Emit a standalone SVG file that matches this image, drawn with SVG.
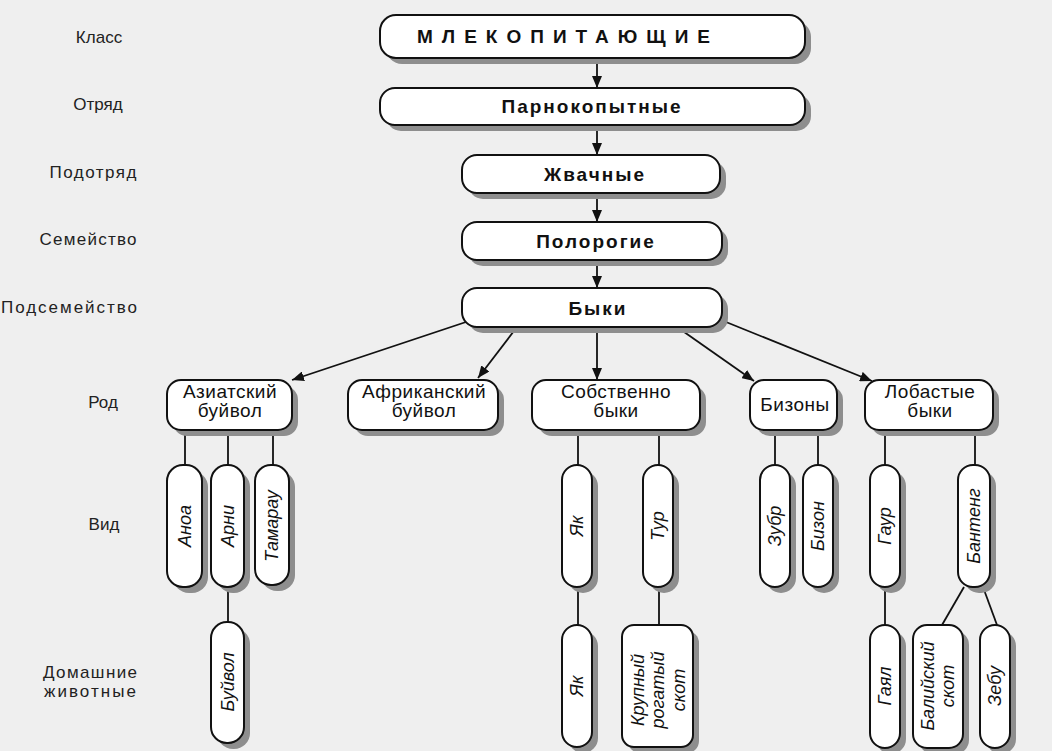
<svg xmlns="http://www.w3.org/2000/svg" width="1052" height="751" viewBox="0 0 1052 751">
<defs>
<style>
.box{fill:#fff;stroke:#111;stroke-width:2}
.sh{fill:#8e8e8e}
.ln{stroke:#111;stroke-width:1.8;fill:none}
.ar{stroke:#111;stroke-width:1.8;fill:none;marker-end:url(#ah)}
.lbl{font-family:"Liberation Sans",Arial,sans-serif;font-size:17px;fill:#222;text-anchor:middle}
.main{font-family:"Liberation Sans",Arial,sans-serif;font-size:19px;font-weight:bold;fill:#111;text-anchor:middle;letter-spacing:2px}
.gen{font-family:"Liberation Sans",Arial,sans-serif;font-size:19px;fill:#111;text-anchor:middle;letter-spacing:0.5px}
.sp{font-family:"Liberation Sans",Arial,sans-serif;font-size:18px;font-style:italic;fill:#111;text-anchor:middle;dominant-baseline:central}
</style>
<marker id="ah" viewBox="0 0 12 10" refX="12" refY="5" markerWidth="12" markerHeight="10" markerUnits="userSpaceOnUse" orient="auto">
<path d="M0,0 L12,5 L0,10 z" fill="#111"/>
</marker>
</defs>
<rect width="1052" height="751" fill="#efefef"/>

<g id="rank-labels">
<text class="lbl" x="99" y="43">Класс</text>
<text class="lbl" x="98" y="110">Отряд</text>
<text class="lbl" x="93" y="178" textLength="87">Подотряд</text>
<text class="lbl" x="88" y="245" textLength="97">Семейство</text>
<text class="lbl" x="69" y="313" textLength="136">Подсемейство</text>
<text class="lbl" x="103" y="408">Род</text>
<text class="lbl" x="104" y="530">Вид</text>
<text class="lbl" x="90" y="678" textLength="94">Домашние</text>
<text class="lbl" x="90" y="697" textLength="92">животные</text>
</g>

<g id="connectors">
<line class="ar" x1="597" y1="58" x2="597" y2="88"/>
<line class="ar" x1="597" y1="125" x2="597" y2="155"/>
<line class="ar" x1="597" y1="193" x2="597" y2="222"/>
<line class="ar" x1="597" y1="260" x2="597" y2="288"/>
<line class="ar" x1="466" y1="322" x2="292" y2="380"/>
<line class="ar" x1="517" y1="327" x2="478" y2="378"/>
<line class="ar" x1="597" y1="327" x2="597" y2="380"/>
<line class="ar" x1="677" y1="327" x2="754" y2="381"/>
<line class="ar" x1="726" y1="322" x2="872" y2="381"/>
<line class="ln" x1="185" y1="430" x2="185" y2="465"/>
<line class="ln" x1="228" y1="430" x2="228" y2="465"/>
<line class="ln" x1="273" y1="430" x2="273" y2="465"/>
<line class="ln" x1="228" y1="587" x2="228" y2="622"/>
<line class="ln" x1="578" y1="430" x2="578" y2="465"/>
<line class="ln" x1="659" y1="430" x2="659" y2="465"/>
<line class="ln" x1="578" y1="587" x2="578" y2="625"/>
<line class="ln" x1="659" y1="587" x2="659" y2="625"/>
<line class="ln" x1="775" y1="430" x2="775" y2="465"/>
<line class="ln" x1="818" y1="430" x2="818" y2="465"/>
<line class="ln" x1="885" y1="430" x2="885" y2="465"/>
<line class="ln" x1="975" y1="430" x2="975" y2="465"/>
<line class="ln" x1="885" y1="587" x2="885" y2="625"/>
<line class="ln" x1="964" y1="587" x2="942" y2="625"/>
<line class="ln" x1="983" y1="587" x2="997" y2="625"/>
</g>

<g id="n-mammals">
<rect class="sh" x="386" y="21" width="425" height="43" rx="16"/>
<rect class="box" x="380" y="15" width="425" height="43" rx="16"/>
<text class="main" x="568" y="43" style="letter-spacing:9px">МЛЕКОПИТАЮЩИЕ</text>
</g>
<g id="n-artiodactyla">
<rect class="sh" x="386" y="94" width="425" height="37" rx="15"/>
<rect class="box" x="380" y="88" width="425" height="37" rx="15"/>
<text class="main" x="592" y="113">Парнокопытные</text>
</g>
<g id="n-ruminantia">
<rect class="sh" x="468" y="161" width="258" height="38" rx="15"/>
<rect class="box" x="462" y="155" width="258" height="38" rx="15"/>
<text class="main" x="595" y="181">Жвачные</text>
</g>
<g id="n-bovidae">
<rect class="sh" x="468" y="228" width="260" height="38" rx="15"/>
<rect class="box" x="462" y="222" width="260" height="38" rx="15"/>
<text class="main" x="596" y="248">Полорогие</text>
</g>
<g id="n-bovinae">
<rect class="sh" x="468" y="294" width="260" height="39" rx="15"/>
<rect class="box" x="462" y="288" width="260" height="39" rx="15"/>
<text class="main" x="598" y="315">Быки</text>
</g>

<g id="n-asian-buffalo">
<rect class="sh" x="173" y="386" width="125" height="50" rx="14"/>
<rect class="box" x="167" y="380" width="125" height="50" rx="14"/>
<text class="gen" x="230" y="398">Азиатский</text>
<text class="gen" x="230" y="417">буйвол</text>
</g>
<g id="n-african-buffalo">
<rect class="sh" x="354" y="386" width="150" height="50" rx="14"/>
<rect class="box" x="348" y="380" width="150" height="50" rx="14"/>
<text class="gen" x="424" y="398">Африканский</text>
<text class="gen" x="424" y="417">буйвол</text>
</g>
<g id="n-bos">
<rect class="sh" x="538" y="386" width="168" height="50" rx="14"/>
<rect class="box" x="532" y="380" width="168" height="50" rx="14"/>
<text class="gen" x="616" y="398">Собственно</text>
<text class="gen" x="616" y="417">быки</text>
</g>
<g id="n-bison">
<rect class="sh" x="756" y="386" width="87" height="50" rx="14"/>
<rect class="box" x="750" y="380" width="87" height="50" rx="14"/>
<text class="gen" x="795" y="411">Бизоны</text>
</g>
<g id="n-bibos">
<rect class="sh" x="871" y="386" width="128" height="50" rx="14"/>
<rect class="box" x="865" y="380" width="128" height="50" rx="14"/>
<text class="gen" x="930" y="398">Лобастые</text>
<text class="gen" x="930" y="417">быки</text>
</g>

<g id="n-anoa">
<rect class="sh" x="173" y="471" width="35" height="122" rx="16"/>
<rect class="box" x="167" y="465" width="35" height="122" rx="16"/>
<text class="sp" transform="translate(185,526) rotate(-90)">Аноа</text>
</g>
<g id="n-arni">
<rect class="sh" x="217" y="471" width="33" height="122" rx="16"/>
<rect class="box" x="211" y="465" width="33" height="122" rx="16"/>
<text class="sp" transform="translate(228,526) rotate(-90)">Арни</text>
</g>
<g id="n-tamaraw">
<rect class="sh" x="261" y="471" width="34" height="120" rx="16"/>
<rect class="box" x="255" y="465" width="34" height="120" rx="16"/>
<text class="sp" transform="translate(272,526) rotate(-90)">Тамарау</text>
</g>
<g id="n-water-buffalo">
<rect class="sh" x="217" y="628" width="33" height="121" rx="16"/>
<rect class="box" x="211" y="622" width="33" height="121" rx="16"/>
<text class="sp" transform="translate(228,682) rotate(-90)">Буйвол</text>
</g>

<g id="n-yak-wild">
<rect class="sh" x="568" y="471" width="30" height="122" rx="15"/>
<rect class="box" x="562" y="465" width="30" height="122" rx="15"/>
<text class="sp" transform="translate(577,526) rotate(-90)">Як</text>
</g>
<g id="n-aurochs">
<rect class="sh" x="649" y="471" width="30" height="122" rx="15"/>
<rect class="box" x="643" y="465" width="30" height="122" rx="15"/>
<text class="sp" transform="translate(658,526) rotate(-90)">Тур</text>
</g>
<g id="n-yak-dom">
<rect class="sh" x="568" y="631" width="30" height="122" rx="15"/>
<rect class="box" x="562" y="625" width="30" height="122" rx="15"/>
<text class="sp" transform="translate(577,686) rotate(-90)">Як</text>
</g>
<g id="n-cattle">
<rect class="sh" x="628" y="631" width="71" height="122" rx="12"/>
<rect class="box" x="622" y="625" width="71" height="122" rx="12"/>
<text class="sp" transform="translate(638,690) rotate(-90)">Крупный</text>
<text class="sp" transform="translate(658,690) rotate(-90)">рогатый</text>
<text class="sp" transform="translate(679,690) rotate(-90)">скот</text>
</g>

<g id="n-wisent">
<rect class="sh" x="766" y="471" width="30" height="122" rx="15"/>
<rect class="box" x="760" y="465" width="30" height="122" rx="15"/>
<text class="sp" transform="translate(775,526) rotate(-90)">Зубр</text>
</g>
<g id="n-bison-sp">
<rect class="sh" x="809" y="471" width="30" height="122" rx="15"/>
<rect class="box" x="803" y="465" width="30" height="122" rx="15"/>
<text class="sp" transform="translate(818,526) rotate(-90)">Бизон</text>
</g>

<g id="n-gaur">
<rect class="sh" x="876" y="471" width="30" height="122" rx="15"/>
<rect class="box" x="870" y="465" width="30" height="122" rx="15"/>
<text class="sp" transform="translate(885,526) rotate(-90)">Гаур</text>
</g>
<g id="n-banteng">
<rect class="sh" x="964" y="471" width="32" height="122" rx="15"/>
<rect class="box" x="958" y="465" width="32" height="122" rx="15"/>
<text class="sp" transform="translate(974,526) rotate(-90)">Бантенг</text>
</g>
<g id="n-gayal">
<rect class="sh" x="876" y="631" width="30" height="123" rx="15"/>
<rect class="box" x="870" y="625" width="30" height="123" rx="15"/>
<text class="sp" transform="translate(885,686) rotate(-90)">Гаял</text>
</g>
<g id="n-bali">
<rect class="sh" x="919" y="631" width="50" height="123" rx="14"/>
<rect class="box" x="913" y="625" width="50" height="123" rx="14"/>
<text class="sp" transform="translate(928,686) rotate(-90)">Балийский</text>
<text class="sp" transform="translate(948,686) rotate(-90)">скот</text>
</g>
<g id="n-zebu">
<rect class="sh" x="986" y="631" width="30" height="123" rx="15"/>
<rect class="box" x="980" y="625" width="30" height="123" rx="15"/>
<text class="sp" transform="translate(995,686) rotate(-90)">Зебу</text>
</g>
</svg>
